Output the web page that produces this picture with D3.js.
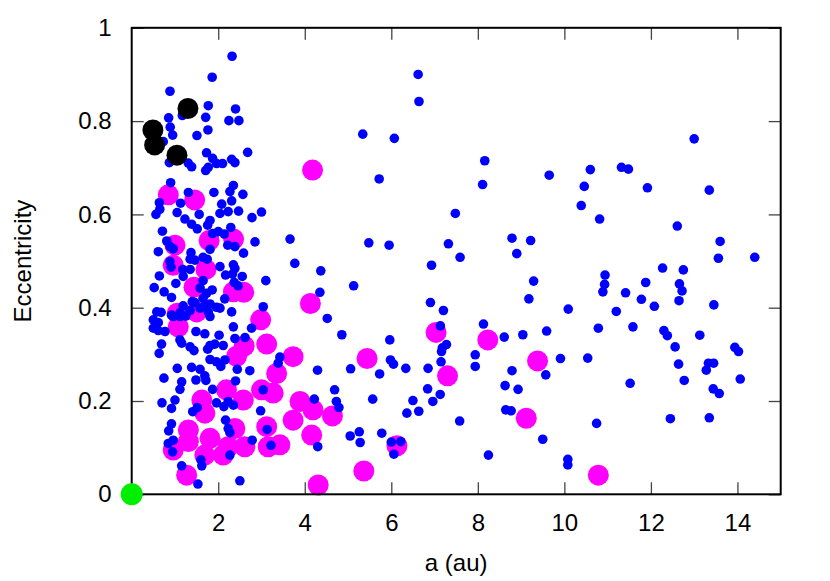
<!DOCTYPE html>
<html>
<head>
<meta charset="utf-8">
<script src="https://cdn.jsdelivr.net/npm/d3@7"></script>
<style>
  html, body { margin: 0; padding: 0; background: #fff; }
  svg { display: block; }
  text { font-family: "Liberation Sans", Arial, sans-serif; }
</style>
</head>
<body>
<svg id="chart" width="830" height="581"></svg>
<script>
// ---- data (a in au, eccentricity) ----
const xTicks = [2, 4, 6, 8, 10, 12, 14];
const yTicks = [0, 0.2, 0.4, 0.6, 0.8, 1];
const yTickLabels = ["0", "0.2", "0.4", "0.6", "0.8", "1"];
const xLabel = "a (au)";
const yLabel = "Eccentricity";

const bluePoints = [
  [2.32,0.939],[1.86,0.894],[0.885,0.864],[1.77,0.833],[2.40,0.826],[0.854,0.807],[1.17,0.812],[1.71,0.808],
  [2.247,0.801],[2.478,0.801],[0.89,0.787],[1.762,0.781],[0.947,0.770],[1.508,0.769],[0.73,0.756],[2.68,0.733],
  [1.73,0.732],[1.87,0.720],[1.307,0.710],[1.386,0.702],[0.87,0.711],[1.963,0.709],[2.10,0.709],[2.31,0.718],
  [2.386,0.711],[1.77,0.701],[1.71,0.694],[0.90,0.668],[2.35,0.662],
  [6.62,0.900],[6.64,0.842],[5.34,0.772],[6.07,0.763],[8.16,0.715],[5.72,0.676],[8.11,0.664],[9.65,0.684],
  [7.48,0.602],[5.48,0.539],[5.95,0.534],[7.32,0.537],[8.79,0.549],[9.22,0.544],[8.90,0.516],[7.59,0.508],
  [4.37,0.479],[6.93,0.491],[9.29,0.457],[4.35,0.433],[5.13,0.447],[6.905,0.411],[7.205,0.394],[9.18,0.419],
  [4.52,0.377],[8.13,0.365],[7.135,0.361],[4.857,0.342],[5.965,0.331],[7.275,0.321],[7.18,0.314],[7.16,0.306],
  [8.61,0.337],[9.04,0.342],[9.59,0.350],[5.98,0.288],[6.05,0.279],[7.15,0.284],[7.94,0.299],[7.94,0.274],
  [4.295,0.266],[5.06,0.269],[5.73,0.258],[6.335,0.270],[6.85,0.270],[8.79,0.265],[9.57,0.256],[8.63,0.233],
  [8.93,0.225],[4.69,0.224],[6.84,0.226],[7.13,0.214],[4.22,0.204],[4.73,0.199],[4.79,0.186],[5.57,0.204],
  [6.50,0.201],[6.96,0.199],[6.635,0.178],[6.36,0.174],[7.58,0.157],[8.645,0.181],[8.77,0.179],[9.50,0.118],
  [5.05,0.125],[5.26,0.134],[5.28,0.111],[5.78,0.131],[6.00,0.112],[6.22,0.113],[6.06,0.086],[4.30,0.102],
  [8.245,0.084],
  [10.60,0.696],[11.32,0.701],[11.48,0.697],[13.00,0.762],[10.46,0.660],[11.92,0.657],[13.35,0.652],[10.39,0.619],
  [10.815,0.590],[12.61,0.575],[13.60,0.542],[13.56,0.506],[14.40,0.508],[12.27,0.485],[12.75,0.481],[10.94,0.470],
  [10.93,0.450],[11.88,0.454],[12.66,0.451],[12.72,0.436],[10.89,0.434],[11.415,0.432],[11.78,0.418],[12.65,0.415],
  [12.08,0.403],[13.455,0.406],[10.09,0.397],[11.20,0.392],[10.785,0.356],[11.585,0.359],[12.30,0.351],[12.38,0.340],
  [13.13,0.341],[12.56,0.316],[13.94,0.315],[14.025,0.306],[9.91,0.291],[10.54,0.292],[12.64,0.279],[13.33,0.281],
  [13.45,0.281],[13.28,0.266],[12.77,0.244],[14.065,0.247],[11.52,0.238],[13.44,0.226],[13.58,0.216],[10.745,0.152],
  [12.45,0.162],[13.35,0.164],[10.08,0.075],[10.08,0.063],
  [1.31,0.647],[1.90,0.647],[2.27,0.649],[2.57,0.643],[2.31,0.629],[0.64,0.625],[1.13,0.624],[2.08,0.622],
  [0.65,0.611],[0.56,0.600],[1.05,0.604],[1.56,0.600],[2.04,0.602],[2.23,0.606],[2.47,0.607],[3.00,0.605],
  [2.78,0.593],[1.23,0.590],[1.385,0.579],[1.515,0.569],[1.81,0.587],[1.755,0.577],[2.29,0.572],[0.71,0.564],
  [1.87,0.559],[2.00,0.563],[2.14,0.558],[2.85,0.541],[3.66,0.547],[0.81,0.543],[0.885,0.531],[0.96,0.526],
  [2.22,0.534],[2.385,0.531],[0.615,0.520],[1.81,0.525],[2.585,0.517],[1.37,0.518],[1.35,0.504],[1.46,0.502],
  [1.65,0.508],[1.745,0.504],[0.885,0.499],[0.91,0.487],[2.35,0.492],[2.04,0.488],[2.385,0.484],[1.18,0.482],
  [1.35,0.482],[3.77,0.495],[1.19,0.467],[0.64,0.468],[2.17,0.470],[2.33,0.472],[2.555,0.467],[1.02,0.452],
  [1.65,0.458],[3.10,0.458],[0.52,0.443],[2.37,0.454],[2.46,0.447],[0.75,0.434],[1.58,0.442],[1.86,0.438],
  [1.73,0.431],[0.92,0.422],[2.15,0.419],[1.65,0.420],[1.40,0.413],[1.46,0.411],[1.19,0.404],[1.81,0.408],
  [1.69,0.404],[2.04,0.399],[1.96,0.401],[3.04,0.402],[0.58,0.391],[0.68,0.390],[0.92,0.384],[1.115,0.389],
  [1.35,0.394],[1.58,0.399],[1.77,0.391],[2.31,0.391],[0.96,0.381],[1.115,0.381],[1.25,0.382],[1.81,0.381],
  [0.50,0.374],[0.615,0.368],[2.35,0.359],[2.77,0.356],[0.50,0.356],[0.615,0.351],[0.77,0.349],[1.485,0.349],
  [1.69,0.344],[2.02,0.341],[0.69,0.322],[1.115,0.331],[1.155,0.324],[2.385,0.334],[2.62,0.336],[1.35,0.316],
  [1.81,0.319],[1.92,0.322],[2.115,0.319],
  [0.635,0.302],[1.44,0.308],[1.755,0.311],[1.81,0.289],[1.96,0.284],[2.155,0.288],[2.06,0.274],[2.44,0.268],
  [2.73,0.265],[3.425,0.294],[3.385,0.281],[1.053,0.270],[1.385,0.272],[1.58,0.268],[1.69,0.254],[1.485,0.245],
  [1.715,0.244],[0.745,0.249],[1.155,0.241],[1.115,0.225],[2.40,0.243],[1.87,0.225],[3.04,0.224],[0.70,0.196],
  [1.0,0.202],[0.92,0.184],[1.96,0.196],[2.13,0.188],[2.23,0.199],[2.35,0.191],[1.41,0.177],[1.515,0.186],
  [2.98,0.179],[0.92,0.151],[0.855,0.136],[2.17,0.159],[2.23,0.141],[2.27,0.132],[3.13,0.139],[0.96,0.116],
  [0.845,0.109],[0.945,0.091],[2.785,0.116],[3.22,0.105],[2.27,0.084],[1.60,0.074],[1.62,0.061],[1.155,0.061],
  [2.50,0.029],[1.53,0.022]
];

const magentaPoints = [
  [4.18,0.695],[0.846,0.642],[1.455,0.631],[1.0,0.534],[1.79,0.544],[2.355,0.547],[0.96,0.491],[1.716,0.482],
  [1.44,0.444],[2.35,0.434],[2.59,0.433],[1.053,0.388],[1.50,0.391],[1.076,0.359],[2.98,0.374],[3.12,0.322],
  [2.60,0.318],[4.13,0.409],
  [7.035,0.347],[8.23,0.331],[5.44,0.291],[9.38,0.286],[7.30,0.254],[9.12,0.163],[4.64,0.168],[4.16,0.127],
  [6.13,0.104],[5.365,0.050],[4.31,0.020],[10.785,0.041],
  [2.425,0.296],[3.73,0.295],[3.35,0.259],[3.27,0.217],[3.00,0.224],[2.19,0.224],[1.62,0.202],[2.58,0.202],
  [3.89,0.199],[1.69,0.174],[4.19,0.181],[3.73,0.159],[3.12,0.145],[1.31,0.138],[1.81,0.120],[2.385,0.141],
  [2.23,0.102],[2.615,0.102],[3.155,0.102],[3.425,0.106],[0.96,0.095],[1.31,0.113],[1.69,0.084],[1.27,0.041],
  [2.115,0.084]
];

const blackPoints = [[1.30,0.827],[0.49,0.781],[0.53,0.749],[1.046,0.727]];
const greenPoints = [[0,0]];

// ---- layout ----
const svg = d3.select("#chart");
const x = d3.scaleLinear().domain([0, 15]).range([131.7, 780.7]);
const y = d3.scaleLinear().domain([0, 1]).range([494.3, 27.8]);
const fontSize = 24;
const tickLen = 12;

// points
function drawSeries(data, color, r) {
  svg.append("g").selectAll("circle").data(data).join("circle")
    .attr("cx", d => x(d[0])).attr("cy", d => y(d[1]))
    .attr("r", r).attr("fill", color);
}
drawSeries(magentaPoints, "#ff00ff", 10.5);
drawSeries(bluePoints, "#0000ff", 4.8);
drawSeries(blackPoints, "#000000", 10.5);

// axes
const axB = svg.append("g").attr("transform", `translate(0,${y(0)})`)
  .call(d3.axisBottom(x).tickValues(xTicks).tickFormat(d3.format("d")).tickSize(-tickLen).tickPadding(20));
const axT = svg.append("g").attr("transform", `translate(0,${y(1)})`)
  .call(d3.axisTop(x).tickValues(xTicks).tickFormat("").tickSize(-tickLen));
const axL = svg.append("g").attr("transform", `translate(${x(0)},0)`)
  .call(d3.axisLeft(y).tickValues(yTicks).tickFormat((d, i) => yTickLabels[i]).tickSize(-tickLen).tickPadding(20));
const axR = svg.append("g").attr("transform", `translate(${x(15)},0)`)
  .call(d3.axisRight(y).tickValues(yTicks).tickFormat("").tickSize(-tickLen));
[axB, axT, axL, axR].forEach(g => {
  g.select(".domain").remove();
  g.selectAll(".tick line").attr("stroke", "#444").attr("stroke-width", 1.3);
  g.selectAll(".tick text").attr("font-size", fontSize).attr("fill", "#000")
    .attr("font-family", "Liberation Sans, Arial, sans-serif");
});

// frame
svg.append("rect")
  .attr("x", x(0)).attr("y", y(1))
  .attr("width", x(15) - x(0)).attr("height", y(0) - y(1))
  .attr("fill", "none").attr("stroke", "#000").attr("stroke-width", 2);

// green point on top
drawSeries(greenPoints, "#00ee00", 11);

// titles
svg.append("text").attr("x", (x(0) + x(15)) / 2).attr("y", 571)
  .attr("text-anchor", "middle").attr("font-size", fontSize).text(xLabel);
svg.append("text")
  .attr("transform", `translate(31,${(y(0) + y(1)) / 2}) rotate(-90)`)
  .attr("text-anchor", "middle").attr("font-size", fontSize).text(yLabel);
</script>
</body>
</html>
